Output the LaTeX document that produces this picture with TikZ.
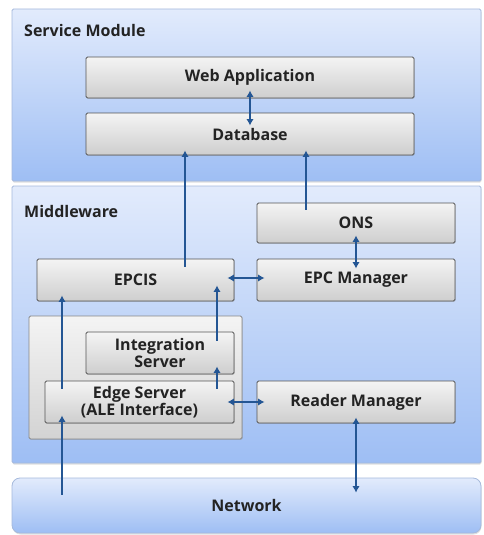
\documentclass[tikz,border=0pt]{standalone}
\usepackage{fontspec}
\setmainfont{Open Sans}
\usetikzlibrary{arrows.meta, positioning, shadows}

\definecolor{panelTop}{RGB}{226,235,252}
\definecolor{panelBot}{RGB}{158,190,244}
\definecolor{panelLine}{RGB}{165,185,220}
\definecolor{boxTop}{RGB}{244,244,244}
\definecolor{boxBot}{RGB}{206,206,206}
\definecolor{boxLine}{RGB}{85,85,85}
\definecolor{arrBlue}{RGB}{36,86,148}
\definecolor{txtGrey}{RGB}{35,35,35}

\begin{document}
\begin{tikzpicture}[
    x=1pt, y=-1pt,
    panel/.style={rectangle, draw=panelLine, line width=0.8pt, top color=panelTop, bottom color=panelBot, rounded corners=1.5pt, drop shadow={opacity=0.25, shadow xshift=0.5pt, shadow yshift=-1.5pt}},
    box/.style={rectangle, draw=boxLine, line width=0.9pt, top color=boxTop, bottom color=boxBot, rounded corners=1.5pt, align=center, font=\bfseries\fontsize{16}{17}\selectfont, text=txtGrey, inner sep=0pt, drop shadow={opacity=0.3, shadow xshift=0.8pt, shadow yshift=-0.8pt}},
    grp/.style={rectangle, draw=boxLine!70, line width=0.9pt, top color=boxTop, bottom color=boxBot!90, rounded corners=1.5pt, drop shadow={opacity=0.3, shadow xshift=0.8pt, shadow yshift=-0.8pt}},
    ttl/.style={anchor=west, font=\bfseries\fontsize{16}{17}\selectfont, text=txtGrey, inner sep=0pt},
    one/.style={-{Latex[length=6.5pt, width=7.5pt]}, draw=arrBlue, line width=2.5pt},
    dbl/.style={{Latex[length=6.5pt, width=7.5pt]}-{Latex[length=6.5pt, width=7.5pt]}, draw=arrBlue, line width=2.5pt}
]
    \useasboundingbox (0,0) rectangle (483,535);

    % three layers
    \node[panel, minimum width=469pt, minimum height=172pt] (svc) at (246.5,95) {};
    \node[panel, minimum width=469pt, minimum height=277pt] (mid) at (246.5,324.5) {};
    \node[panel, rounded corners=8pt, minimum width=469pt, minimum height=55pt,
          font=\bfseries\fontsize{16}{17}\selectfont, text=txtGrey] (net) at (246.5,505.5) {Network};
    \node[ttl] (svclbl) at (24,31) {Service Module};
    \node[ttl] (midlbl) at (24,211) {Middleware};

    % service module
    \node[box, minimum width=328pt, minimum height=41pt] (web) at (250,77.5) {Web Application};
    \node[box, minimum width=328pt, minimum height=42pt] (db) at (250,134) {Database};

    % middleware
    \node[box, minimum width=198pt, minimum height=40pt] (ons) at (356,223) {ONS};
    \node[box, minimum width=198pt, minimum height=42pt] (epcm) at (356,280) {EPC Manager};
    \node[box, minimum width=197pt, minimum height=42pt] (epcis) at (135.5,280) {EPCIS};
    \node[grp, minimum width=213pt, minimum height=123pt] (edgegrp) at (135.5,377.5) {};
    \node[box, minimum width=148pt, minimum height=42pt] (integ) at (160,353) {Integration\\Server};
    \node[box, minimum width=189pt, minimum height=42pt] (edge) at (139.5,402) {Edge Server\\(ALE Interface)};
    \node[box, minimum width=198pt, minimum height=42pt] (reader) at (356,402) {Reader Manager};

    % arrows
    \draw[dbl, shorten <=-8pt, shorten >=-13pt] (web.south) -- (db.north);
    \draw[one, shorten <=-8pt, shorten >=-5pt] ([xshift=49.5pt]epcis.north) -- ([xshift=-65pt]db.south);
    \draw[one, shorten <=-7pt, shorten >=-5pt] ([xshift=-50pt]ons.north) -- ([xshift=56pt]db.south);
    \draw[dbl, shorten <=-8pt, shorten >=-10pt] (ons.south) -- (epcm.north);
    \draw[dbl, shorten <=-7pt, shorten >=-8pt] ([yshift=2pt]epcis.east) -- ([yshift=2pt]epcm.west);
    \draw[one, shorten <=-8pt, shorten >=-6pt] ([xshift=-77.5pt]edge.north) -- ([xshift=-73.5pt]epcis.south);
    \draw[one, shorten <=-9pt, shorten >=-16pt] ([xshift=57pt]integ.north) -- ([xshift=81.5pt]epcis.south);
    \draw[one, shorten <=-8pt, shorten >=-8pt] ([xshift=77.5pt]edge.north) -- ([xshift=57pt]integ.south);
    \draw[dbl, shorten <=-7pt, shorten >=-8pt] (edge.east) -- (reader.west);
    \draw[one, shorten <=-17pt, shorten >=-8pt] ([xshift=-184.5pt]net.north) -- ([xshift=-77.5pt]edge.south);
    \draw[dbl, shorten <=-6pt, shorten >=-15pt] (reader.south) -- ([xshift=109.5pt]net.north);
\end{tikzpicture}
\end{document}
